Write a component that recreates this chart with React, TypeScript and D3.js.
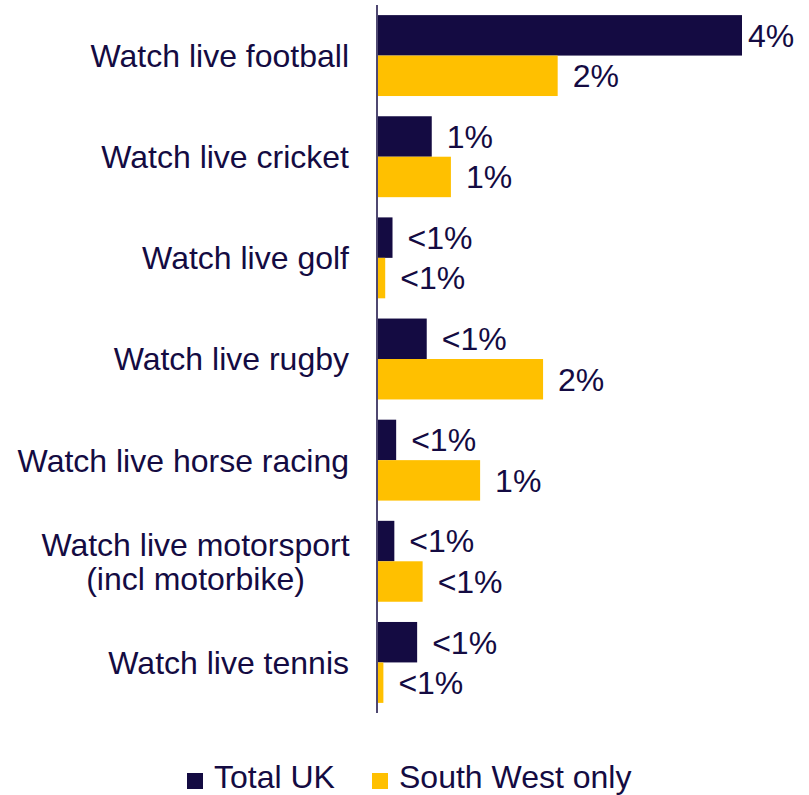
import React from "react";
import * as d3 from "d3";

const categories: string[][] = [
  ["Watch live football"],
  ["Watch live cricket"],
  ["Watch live golf"],
  ["Watch live rugby"],
  ["Watch live horse racing"],
  ["Watch live motorsport", "(incl motorbike)"],
  ["Watch live tennis"],
];
const seriesNames = ["Total UK", "South West only"];
const totalUK = [4.0, 0.6, 0.17, 0.545, 0.21, 0.19, 0.44];
const southWest = [1.98, 0.81, 0.09, 1.82, 1.13, 0.5, 0.07];
const totalUKLabels = ["4%", "1%", "<1%", "<1%", "<1%", "<1%", "<1%"];
const southWestLabels = ["2%", "1%", "<1%", "2%", "1%", "<1%", "<1%"];

const W = 809;
const H = 795;
const NAVY = "#140B42";
const GOLD = "#FFC000";
const FONT = "Arial, 'Liberation Sans', sans-serif";
const FS = 32;

export default function App() {
  const keys = categories.map((_, i) => String(i));
  const y = d3.scaleBand<string>().domain(keys).range([5, 713]).paddingInner(0.2).paddingOuter(0.1);
  const sub = d3.scaleBand<string>().domain(["0", "1"]).range([0, y.bandwidth()]).padding(0);
  const x = d3.scaleLinear().domain([0, 4]).range([377, 742]);
  const series = [
    { values: totalUK, labels: totalUKLabels, color: NAVY },
    { values: southWest, labels: southWestLabels, color: GOLD },
  ];
  const capHalf = FS * 0.355;
  const lineH = 34;

  return (
    <svg width={W} height={H} style={{ position: "absolute", left: 0, top: 0, background: "#fff" }} fontFamily={FONT}>
      {categories.map((lines, i) => {
        const cy = (y(String(i)) as number) + y.bandwidth() / 2;
        if (lines.length > 1) {
          return (
            <text key={"c" + i} fill={NAVY} fontSize={FS} textAnchor="middle">
              {lines.map((ln, j) => (
                <tspan key={j} x={195.5} y={cy + capHalf + (j - (lines.length - 1) / 2) * lineH}>
                  {ln}
                </tspan>
              ))}
            </text>
          );
        }
        return (
          <text key={"c" + i} x={349} y={cy + capHalf} fill={NAVY} fontSize={FS} textAnchor="end">
            {lines[0]}
          </text>
        );
      })}
      {series.map((s, si) =>
        s.values.map((v, i) => {
          const y0 = (y(String(i)) as number) + (sub(String(si)) as number);
          const end = x(v);
          const lx = end > W - 100 ? end + 6 : end + 15;
          return (
            <g key={si + "-" + i}>
              <rect x={x(0) + 1} y={y0} width={end - x(0) - 1} height={sub.bandwidth()} fill={s.color} />
              <text x={lx} y={y0 + sub.bandwidth() / 2 + capHalf} fill={NAVY} fontSize={FS}>
                {s.labels[i]}
              </text>
            </g>
          );
        })
      )}
      <line x1={377} x2={377} y1={5} y2={713} stroke={NAVY} strokeWidth={1.5} />
      <g>
        {(() => {
          const widths = [120, 232];
          const sq = 16;
          const gapSq = 12;
          const gapItems = 37;
          const total = sq + gapSq + widths[0] + gapItems + sq + gapSq + widths[1];
          let cx = W / 2 - total / 2 + 5;
          return seriesNames.map((name, k) => {
            const x0 = cx;
            cx += sq + gapSq + widths[k] + gapItems;
            return (
              <g key={name}>
                <rect x={x0} y={773} width={sq} height={sq} fill={series[k].color} />
                <text x={x0 + sq + gapSq - 1} y={788} fill={NAVY} fontSize={FS}>
                  {name}
                </text>
              </g>
            );
          });
        })()}
      </g>
    </svg>
  );
}
